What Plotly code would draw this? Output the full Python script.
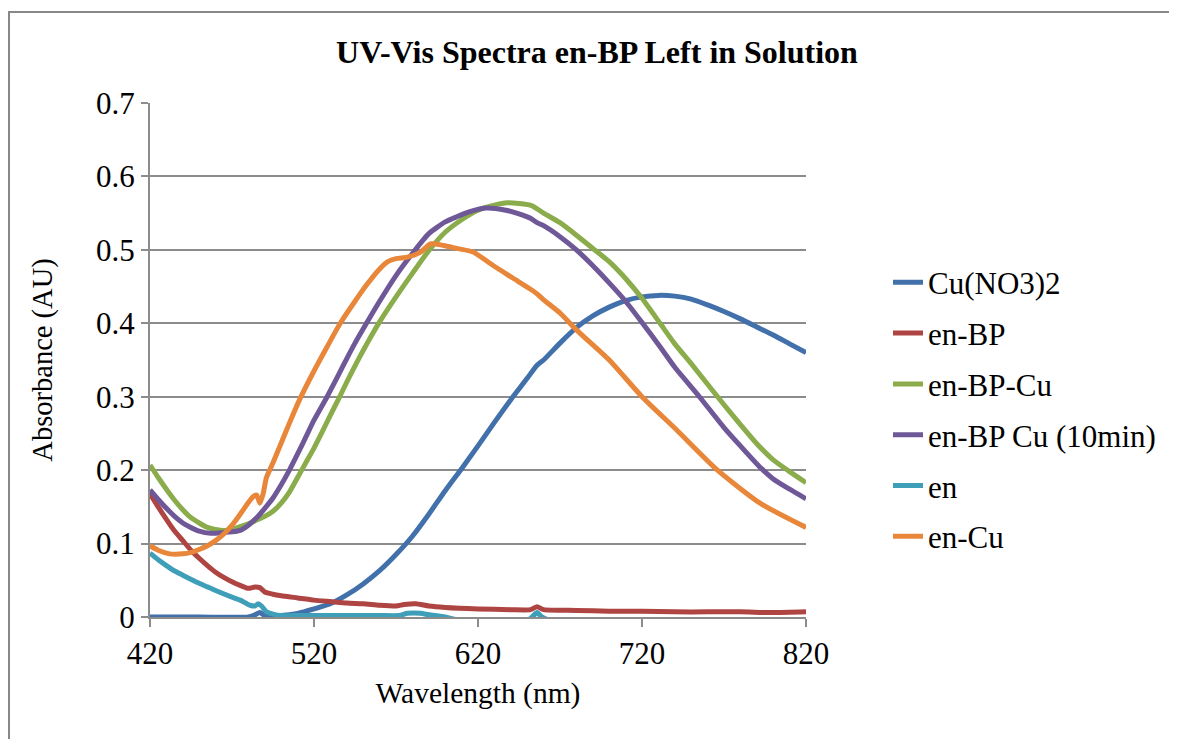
import plotly.graph_objects as go

# ---- data ----
cu_wl = [420, 450, 480, 484, 487, 490, 500, 510, 520, 530, 540, 550, 560, 570, 580, 590, 600, 610, 620, 630, 640, 650, 656, 660, 670, 680, 690, 700, 710, 720, 730, 740, 750, 760, 770, 780, 790, 800, 810, 820]
cu_abs = [0.0, 0.0, 0.0, 0.003, 0.006, 0.002, 0.002, 0.005, 0.011, 0.018, 0.03, 0.045, 0.063, 0.085, 0.11, 0.14, 0.172, 0.202, 0.233, 0.265, 0.296, 0.325, 0.343, 0.35, 0.373, 0.394, 0.41, 0.422, 0.431, 0.436, 0.438, 0.437, 0.433, 0.425, 0.416, 0.406, 0.395, 0.384, 0.372, 0.36]

enbp_wl = [420, 425, 430, 435, 440, 445, 450, 455, 460, 465, 470, 475, 480, 484, 487, 490, 495, 500, 510, 520, 530, 540, 550, 560, 570, 575, 582, 590, 600, 620, 640, 652, 656, 660, 680, 700, 720, 740, 760, 780, 800, 820]
enbp_abs = [0.168, 0.15, 0.133, 0.117, 0.104, 0.091, 0.08, 0.07, 0.061, 0.054, 0.048, 0.043, 0.039, 0.041, 0.04, 0.034, 0.031, 0.029, 0.026, 0.023, 0.021, 0.019, 0.018, 0.016, 0.015, 0.017, 0.018, 0.015, 0.013, 0.011, 0.01, 0.01, 0.014, 0.01, 0.009, 0.008, 0.008, 0.007, 0.007, 0.007, 0.006, 0.007]

enbpcu_wl = [420, 425, 430, 435, 440, 444, 450, 455, 463, 470, 475, 480, 485, 490, 495, 500, 505, 510, 515, 520, 525, 530, 535, 540, 545, 550, 555, 560, 570, 580, 590, 600, 610, 620, 630, 638, 645, 653, 660, 670, 680, 690, 700, 705, 710, 720, 731, 740, 750, 760, 770, 780, 790, 800, 810, 820]
enbpcu_abs = [0.207, 0.19, 0.174, 0.159, 0.146, 0.137, 0.128, 0.122, 0.118, 0.119, 0.123, 0.127, 0.132, 0.137, 0.144, 0.155, 0.17, 0.19, 0.21, 0.23, 0.252, 0.275, 0.297, 0.32, 0.342, 0.363, 0.383, 0.402, 0.436, 0.468, 0.499, 0.524, 0.541, 0.554, 0.561, 0.564, 0.563, 0.56, 0.55, 0.537, 0.52, 0.502, 0.484, 0.473, 0.461, 0.434, 0.4, 0.372, 0.345, 0.317, 0.289, 0.262, 0.236, 0.214, 0.198, 0.183]

enbpcu10_wl = [420, 425, 430, 435, 440, 444, 450, 457, 465, 470, 475, 480, 485, 490, 495, 500, 505, 510, 515, 520, 528, 535, 540, 545, 552, 560, 570, 580, 590, 600, 607, 615, 625, 637, 645, 652, 656, 660, 670, 680, 692, 700, 710, 720, 731, 740, 755, 770, 780, 792, 800, 810, 820]
enbpcu10_abs = [0.173, 0.16, 0.148, 0.137, 0.128, 0.123, 0.117, 0.114, 0.115, 0.116, 0.118, 0.125, 0.135, 0.148, 0.162, 0.18, 0.2, 0.222, 0.245, 0.268, 0.3, 0.33, 0.352, 0.373, 0.4, 0.43, 0.465, 0.495, 0.522, 0.538, 0.545, 0.552, 0.557, 0.554, 0.549, 0.543, 0.537, 0.533, 0.518, 0.5, 0.474, 0.455, 0.43, 0.401, 0.368, 0.34, 0.3, 0.258, 0.233, 0.204, 0.188, 0.174, 0.161]

en_wl = [420, 425, 430, 434, 440, 450, 455, 460, 470, 475, 481, 484, 486, 488, 491, 495, 500, 510, 520, 540, 560, 572, 577, 585, 590, 600, 610, 650, 653, 656, 659, 665, 820]
en_abs = [0.087, 0.078, 0.07, 0.064, 0.057, 0.046, 0.041, 0.036, 0.027, 0.023, 0.016, 0.015, 0.018, 0.015, 0.007, 0.004, 0.002, 0.002, 0.002, 0.002, 0.002, 0.002, 0.005, 0.005, 0.003, 0.0, -0.005, -0.005, 0.0, 0.006, 0.0, -0.005, -0.005]

encu_wl = [420, 425, 432, 440, 445, 450, 455, 460, 465, 470, 475, 480, 483, 485, 487, 489, 491, 495, 500, 505, 511, 520, 528, 536, 545, 552, 560, 565, 570, 577, 585, 591, 599, 607, 617, 629, 641, 653, 656, 660, 670, 680, 700, 720, 741, 766, 792, 820]
encu_abs = [0.097, 0.091, 0.086, 0.086, 0.088, 0.092, 0.097, 0.104, 0.113, 0.125, 0.14, 0.156, 0.164, 0.166, 0.155, 0.168, 0.19, 0.21, 0.237, 0.264, 0.295, 0.335, 0.368, 0.4, 0.43, 0.452, 0.474, 0.484, 0.488, 0.49, 0.497, 0.508, 0.506, 0.502, 0.497, 0.479, 0.462, 0.445, 0.44, 0.432, 0.414, 0.391, 0.35, 0.3, 0.255, 0.2, 0.155, 0.122]

series = [
    ("Cu(NO3)2", cu_wl, cu_abs, "#4170ab"),
    ("en-BP", enbp_wl, enbp_abs, "#ae4542"),
    ("en-BP-Cu", enbpcu_wl, enbpcu_abs, "#8bac4b"),
    ("en-BP Cu (10min)", enbpcu10_wl, enbpcu10_abs, "#6f5897"),
    ("en", en_wl, en_abs, "#3f9eb8"),
    ("en-Cu", encu_wl, encu_abs, "#e8863a"),
]

x_ticks = [420, 520, 620, 720, 820]
y_ticks = [0, 0.1, 0.2, 0.3, 0.4, 0.5, 0.6, 0.7]
y_tick_text = ["0", "0.1", "0.2", "0.3", "0.4", "0.5", "0.6", "0.7"]

FONT = "Liberation Serif"
GRID = "#8c8c8c"

W, H = 1169, 731  # page adds an 8px body margin
L, T, PW, PH = 142, 95, 656, 514

fig = go.Figure()
for i, (name, wl, ab, col) in enumerate(series):
    fig.add_trace(go.Scatter(
        x=wl, y=ab, name=name, mode="lines",
        line=dict(color=col, width=5, shape="spline", smoothing=0.6),
        legendgroup=f"g{i}",
    ))

fig.update_layout(
    width=W, height=H,
    margin=dict(l=L, r=W - L - PW, t=T, b=H - T - PH),
    paper_bgcolor="white", plot_bgcolor="white",
    font=dict(family=FONT, color="black", size=31),
    title=dict(text="<b>UV-Vis Spectra en-BP Left in Solution</b>",
               x=589 / W, xref="container", xanchor="center",
               y=1 - 44 / H, yref="container", yanchor="middle",
               font=dict(family=FONT, size=32, color="black")),
    showlegend=True,
    legend=dict(x=1.125, y=0.703, xanchor="left", yanchor="top",
                font=dict(family=FONT, size=31, color="black"),
                tracegroupgap=7.5, bgcolor="rgba(0,0,0,0)"),
    xaxis=dict(range=[420, 820], tickvals=x_ticks, ticks="outside", ticklen=8,
               tickcolor=GRID, tickwidth=2, showline=True, linecolor=GRID, linewidth=2,
               showgrid=False, zeroline=False,
               title=dict(text="Wavelength (nm)", font=dict(size=29.5), standoff=12),
               tickfont=dict(size=31)),
    yaxis=dict(range=[0, 0.7], tickvals=y_ticks, ticktext=y_tick_text, ticks="outside",
               ticklen=7, tickcolor=GRID, tickwidth=2, showline=True, linecolor=GRID,
               linewidth=2, showgrid=True, gridcolor=GRID, gridwidth=2, zeroline=False,
               title=dict(text="Absorbance (AU)", font=dict(size=28.5), standoff=35),
               tickfont=dict(size=31)),
    shapes=[dict(type="rect", xref="paper", yref="paper",
                 x0=(1 - L) / PW, x1=(1200 - L) / PW,
                 y0=-(800 - T - PH) / PH, y1=(T + PH - 4) / PH,
                 line=dict(color="#888888", width=2), fillcolor="rgba(0,0,0,0)",
                 layer="below")],
)

fig.write_html("out.html")
